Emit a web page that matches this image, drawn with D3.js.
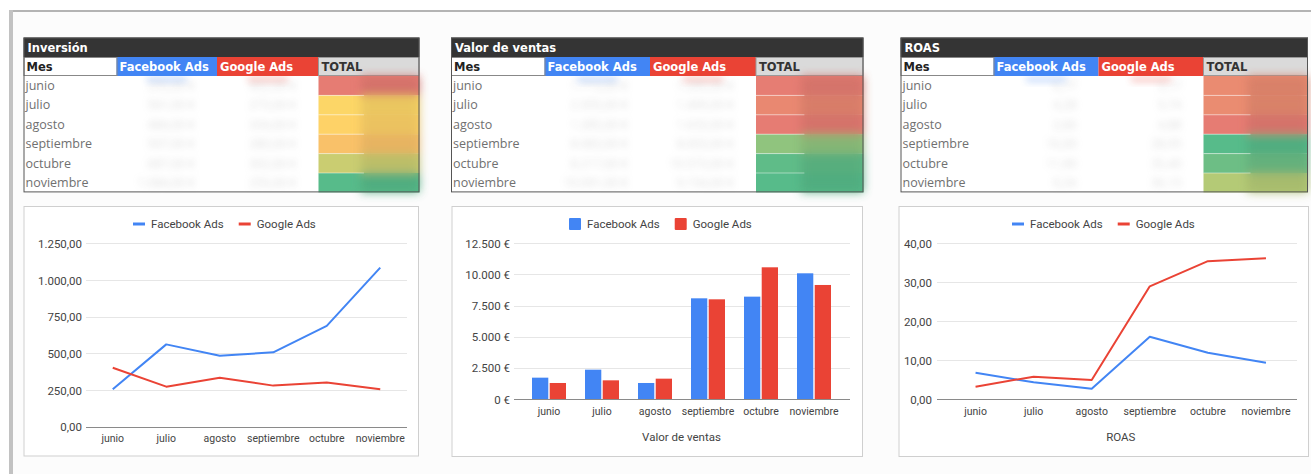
<!DOCTYPE html>
<html>
<head>
<meta charset="utf-8">
<script src="https://cdn.jsdelivr.net/npm/d3@7"></script>
<style>
  body { margin: 0; background: #fff; }
  svg { display: block; }
</style>
</head>
<body>
<div id="dash"></div>
<script>
// datos
var months = ["junio", "julio", "agosto", "septiembre", "octubre", "noviembre"];
var seriesNames = ["Facebook Ads", "Google Ads"];

var invFacebook = [255, 561, 484, 507, 687, 1084];
var invGoogle   = [402, 273, 334, 280, 302, 255];
var invTotal    = [657, 834, 818, 787, 989, 1339];

var ventasFacebook = [1713, 2355, 1285, 8083, 8217, 10091];
var ventasGoogle   = [1285, 1499, 1633, 8003, 10573, 9154];
var ventasTotal    = [2998, 3854, 2918, 16086, 18790, 19245];

var roasFacebook = [6.77, 4.28, 2.66, 16.0, 11.9, 9.34];
var roasGoogle   = [3.17, 5.74, 4.88, 28.95, 35.4, 36.15];
var roasTotal    = [4.56, 4.62, 3.57, 20.4, 19.0, 14.4];

var invTicks    = [0, 250, 500, 750, 1000, 1250];
var ventasTicks = [0, 2500, 5000, 7500, 10000, 12500];
var roasTicks   = [0, 10, 20, 30, 40];

var BLUE = "#4285f4", RED = "#ea4335";

var es = d3.formatLocale({decimal: ",", thousands: ".", grouping: [3], currency: ["", " €"]});
var fmt2 = es.format(",.2f");
var fmtEur = es.format("$,.0f");
var fmtEur2 = es.format("$,.2f");

var W = 1311, H = 474;
var svg = d3.select("#dash").append("svg")
  .attr("width", W)
  .attr("height", H);

var defs = svg.append("defs");
defs.append("filter").attr("id", "blur")
  .attr("x", "-50%").attr("y", "-100%").attr("width", "200%").attr("height", "300%")
  .append("feGaussianBlur").attr("stdDeviation", 3.5);
defs.append("filter").attr("id", "blurBig")
  .attr("x", "-50%").attr("y", "-100%").attr("width", "200%").attr("height", "300%")
  .append("feGaussianBlur").attr("stdDeviation", 5);

// marco de la pagina
svg.append("rect").attr("x", 9).attr("y", 10).attr("width", W).attr("height", H)
  .attr("fill", "#fcfcfc");
svg.append("line").attr("x1", 9).attr("x2", W).attr("y1", 11).attr("y2", 11)
  .attr("stroke", "#b4b4b4").attr("stroke-width", 2);
svg.append("rect").attr("x", 9).attr("y", 10).attr("width", 4).attr("height", H)
  .attr("fill", "#c2c2c2");

var tableFont = "'DejaVu Sans', 'Open Sans', sans-serif";
var bodyFont = "'Open Sans', sans-serif";
var chartFont = "Roboto, Arial, sans-serif";

function drawTable(cfg) {
  var g = svg.append("g");
  var x0 = cfg.cols[0], x1 = cfg.cols[4];
  var top = 37.5, titleH = 19.5, headH = 19, rowH = 19.4;
  var bodyTop = top + titleH + headH;

  var color = d3.scaleLinear()
    .domain([d3.min(cfg.total), d3.median(cfg.total), d3.max(cfg.total)])
    .range(["#e67c73", "#ffd666", "#57bb8a"]);

  g.append("rect").attr("x", x0).attr("y", bodyTop)
    .attr("width", x1 - x0).attr("height", rowH * months.length).attr("fill", "#fff");

  // titulo
  g.append("rect").attr("x", x0).attr("y", top).attr("width", x1 - x0).attr("height", titleH)
    .attr("fill", "#343434");
  g.append("text").attr("x", x0 + 4).attr("y", top + 14)
    .attr("fill", "#fff").attr("font-family", tableFont).attr("font-weight", "bold")
    .attr("font-size", 11.5).text(cfg.title);

  // cabecera
  var heads = [
    {t: "Mes", bg: "#fff", fg: "#222"},
    {t: "Facebook Ads", bg: BLUE, fg: "#fff"},
    {t: "Google Ads", bg: RED, fg: "#fff"},
    {t: "TOTAL", bg: "#dadada", fg: "#333"}
  ];
  heads.forEach(function(h, i) {
    g.append("rect").attr("x", cfg.cols[i]).attr("y", top + titleH)
      .attr("width", cfg.cols[i + 1] - cfg.cols[i]).attr("height", headH)
      .attr("fill", h.bg);
    g.append("text").attr("x", cfg.cols[i] + 3).attr("y", top + titleH + 14)
      .attr("fill", h.fg).attr("font-family", tableFont).attr("font-weight", "bold")
      .attr("font-size", 11.5).text(h.t);
  });
  // sombra difuminada bajo cabeceras
  [[1, BLUE], [2, RED]].forEach(function(p) {
    var cx = (cfg.cols[p[0]] + cfg.cols[p[0] + 1]) / 2;
    g.append("rect").attr("x", cx - 20).attr("y", bodyTop + 1).attr("width", 40).attr("height", 5)
      .attr("fill", p[1]).attr("opacity", 0.3).attr("filter", "url(#blur)");
  });
  g.append("rect").attr("x", x0 + 0.5).attr("y", top + titleH + 0.5)
    .attr("width", cfg.cols[1] - x0).attr("height", headH - 1)
    .attr("fill", "none").attr("stroke", "#888");
  g.append("rect").attr("x", cfg.cols[3]).attr("y", top + titleH + 0.5)
    .attr("width", x1 - cfg.cols[3] - 0.5).attr("height", headH - 1)
    .attr("fill", "none").attr("stroke", "#999");

  // filas
  months.forEach(function(m, i) {
    var y = bodyTop + i * rowH;
    g.append("text").attr("x", x0 + 2).attr("y", y + 14)
      .attr("fill", "#707070").attr("font-family", bodyFont).attr("font-size", 12.5).text(m);
    g.append("rect").attr("x", cfg.cols[3]).attr("y", y)
      .attr("width", x1 - cfg.cols[3]).attr("height", rowH)
      .attr("fill", color(cfg.total[i]));
  });
  // valores difuminados
  var blurG = g.append("g").attr("filter", "url(#blur)").attr("opacity", 0.35);
  months.forEach(function(m, i) {
    var y = bodyTop + i * rowH;
    blurG.append("text").attr("x", cfg.cols[2] - 22).attr("y", y + 14)
      .attr("text-anchor", "end").attr("fill", "#999").attr("font-family", bodyFont)
      .attr("font-size", 12).text(cfg.fmt(cfg.fb[i]));
    blurG.append("text").attr("x", cfg.cols[3] - 22).attr("y", y + 14)
      .attr("text-anchor", "end").attr("fill", "#999").attr("font-family", bodyFont)
      .attr("font-size", 12).text(cfg.fmt(cfg.go[i]));
  });
  var tw = x1 - cfg.cols[3];
  var blurT = g.append("g").attr("filter", "url(#blurBig)").attr("opacity", 0.85);
  months.forEach(function(m, i) {
    var y = bodyTop + i * rowH;
    blurT.append("rect").attr("x", cfg.cols[3] + tw * 0.42).attr("y", y)
      .attr("width", tw * 0.58).attr("height", rowH)
      .attr("fill", d3.color(color(cfg.total[i])).darker(0.25));
  });
  months.forEach(function(m, i) {
    if (i == 0) return;
    var y = bodyTop + i * rowH;
    g.append("line").attr("x1", cfg.cols[3]).attr("x2", cfg.cols[3] + tw * 0.45)
      .attr("y1", y).attr("y2", y).attr("stroke", "#fff").attr("stroke-opacity", 0.45);
  });

  g.append("rect").attr("x", x0 + 0.5).attr("y", top + 0.5)
    .attr("width", x1 - x0 - 1).attr("height", titleH + headH + rowH * months.length - 1)
    .attr("fill", "none").attr("stroke", "#555");
}

drawTable({title: "Inversión", cols: [23.5, 116.5, 217, 318.5, 419.5],
  fb: invFacebook, go: invGoogle, total: invTotal, fmt: fmtEur2});
drawTable({title: "Valor de ventas", cols: [451, 544.5, 650, 756, 863.5],
  fb: ventasFacebook, go: ventasGoogle, total: ventasTotal, fmt: fmtEur2});
drawTable({title: "ROAS", cols: [900.5, 993.5, 1098.5, 1203.5, 1308],
  fb: roasFacebook, go: roasGoogle, total: roasTotal, fmt: fmt2});

function drawChart(cfg) {
  var g = svg.append("g");
  g.append("rect").attr("x", cfg.box[0] + 0.5).attr("y", cfg.box[1] + 0.5)
    .attr("width", cfg.box[2] - cfg.box[0]).attr("height", cfg.box[3] - cfg.box[1])
    .attr("fill", "#fff").attr("stroke", "#cfcfcf");

  var y = d3.scaleLinear().domain([0, d3.max(cfg.ticks)]).range(cfg.yRange);

  // rejilla
  g.append("g").selectAll("line").data(cfg.ticks).enter().append("line")
    .attr("x1", cfg.grid[0]).attr("x2", cfg.grid[1])
    .attr("y1", function(d) { return Math.round(y(d)) + 0.5; })
    .attr("y2", function(d) { return Math.round(y(d)) + 0.5; })
    .attr("stroke", function(d) { return d == 0 ? "#8a8a8a" : "#e6e6e6"; });

  var yAxis = g.append("g")
    .attr("transform", "translate(" + cfg.labelX + ",0)")
    .call(d3.axisLeft(y).tickValues(cfg.ticks).tickFormat(cfg.fmt).tickSize(0).tickPadding(0));
  yAxis.select(".domain").remove();
  yAxis.selectAll("text").attr("font-family", chartFont).attr("font-size", 11.5)
    .attr("fill", "#444").attr("dy", "0.35em");

  var x = d3.scaleBand().domain(months).range(cfg.xRange).paddingInner(0).paddingOuter(0);
  var xAxis = g.append("g")
    .attr("transform", "translate(0," + cfg.xLabelY + ")")
    .call(d3.axisBottom(x).tickSize(0).tickPadding(0));
  xAxis.select(".domain").remove();
  xAxis.selectAll("text").attr("font-family", chartFont).attr("font-size", 10.5)
    .attr("fill", "#444").attr("dy", "0.35em");

  var vals = [cfg.fb, cfg.go];
  var colors = [BLUE, RED];

  if (cfg.type == "bar") {
    var inner = d3.scaleBand().domain([0, 1])
      .range([-cfg.groupW / 2, cfg.groupW / 2]).paddingInner(0.08);
    vals.forEach(function(v, s) {
      g.append("g").selectAll("rect").data(v).enter().append("rect")
        .attr("x", function(d, i) { return x(months[i]) + x.bandwidth() / 2 + inner(s); })
        .attr("y", function(d) { return y(d); })
        .attr("width", inner.bandwidth())
        .attr("height", function(d) { return y(0) - y(d); })
        .attr("fill", colors[s]);
    });
  } else {
    vals.forEach(function(v, s) {
      var line = d3.line()
        .x(function(d, i) { return x(months[i]) + x.bandwidth() / 2; })
        .y(function(d) { return y(d); });
      g.append("path").datum(v).attr("d", line)
        .attr("fill", "none").attr("stroke", colors[s]).attr("stroke-width", 2)
        .attr("stroke-linejoin", "round");
    });
  }

  // leyenda
  var leg = g.append("g").attr("transform", "translate(" + cfg.legend[0] + "," + cfg.legend[1] + ")");
  var lx = 0;
  seriesNames.forEach(function(n, s) {
    if (cfg.type == "bar") {
      leg.append("rect").attr("x", lx).attr("y", -6).attr("width", 12).attr("height", 12)
        .attr("rx", 1).attr("fill", colors[s]);
    } else {
      leg.append("line").attr("x1", lx).attr("x2", lx + 12).attr("y1", 0).attr("y2", 0)
        .attr("stroke", colors[s]).attr("stroke-width", 3);
    }
    var t = leg.append("text").attr("x", lx + 18).attr("y", 0).attr("dy", "0.35em")
      .attr("font-family", chartFont).attr("font-size", 11.5).attr("fill", "#444").text(n);
    lx += 18 + t.node().getComputedTextLength() + 15;
  });

  if (cfg.title) {
    g.append("text").attr("x", (cfg.xRange[0] + cfg.xRange[1]) / 2).attr("y", 437)
      .attr("dy", "0.35em").attr("text-anchor", "middle")
      .attr("font-family", chartFont).attr("font-size", 11.5).attr("fill", "#444")
      .text(cfg.title);
  }
}

drawChart({type: "line", box: [23.5, 206, 418, 455.5], ticks: invTicks, fmt: fmt2,
  fb: invFacebook, go: invGoogle, yRange: [426.7, 243.3], grid: [86, 407],
  labelX: 82, xRange: [86, 407], xLabelY: 438, legend: [133, 224], title: null});
drawChart({type: "bar", box: [451.5, 206, 862, 456], ticks: ventasTicks, fmt: fmtEur,
  fb: ventasFacebook, go: ventasGoogle, yRange: [399, 243.3], grid: [514, 850],
  labelX: 510, xRange: [522.5, 840.5], xLabelY: 411, legend: [569, 224], groupW: 34,
  title: "Valor de ventas"});
drawChart({type: "line", box: [898.5, 206, 1308, 456], ticks: roasTicks, fmt: fmt2,
  fb: roasFacebook, go: roasGoogle, yRange: [399, 243.3], grid: [937, 1297],
  labelX: 932, xRange: [946.5, 1295], xLabelY: 411, legend: [1012, 224], title: "ROAS"});
</script>
</body>
</html>
